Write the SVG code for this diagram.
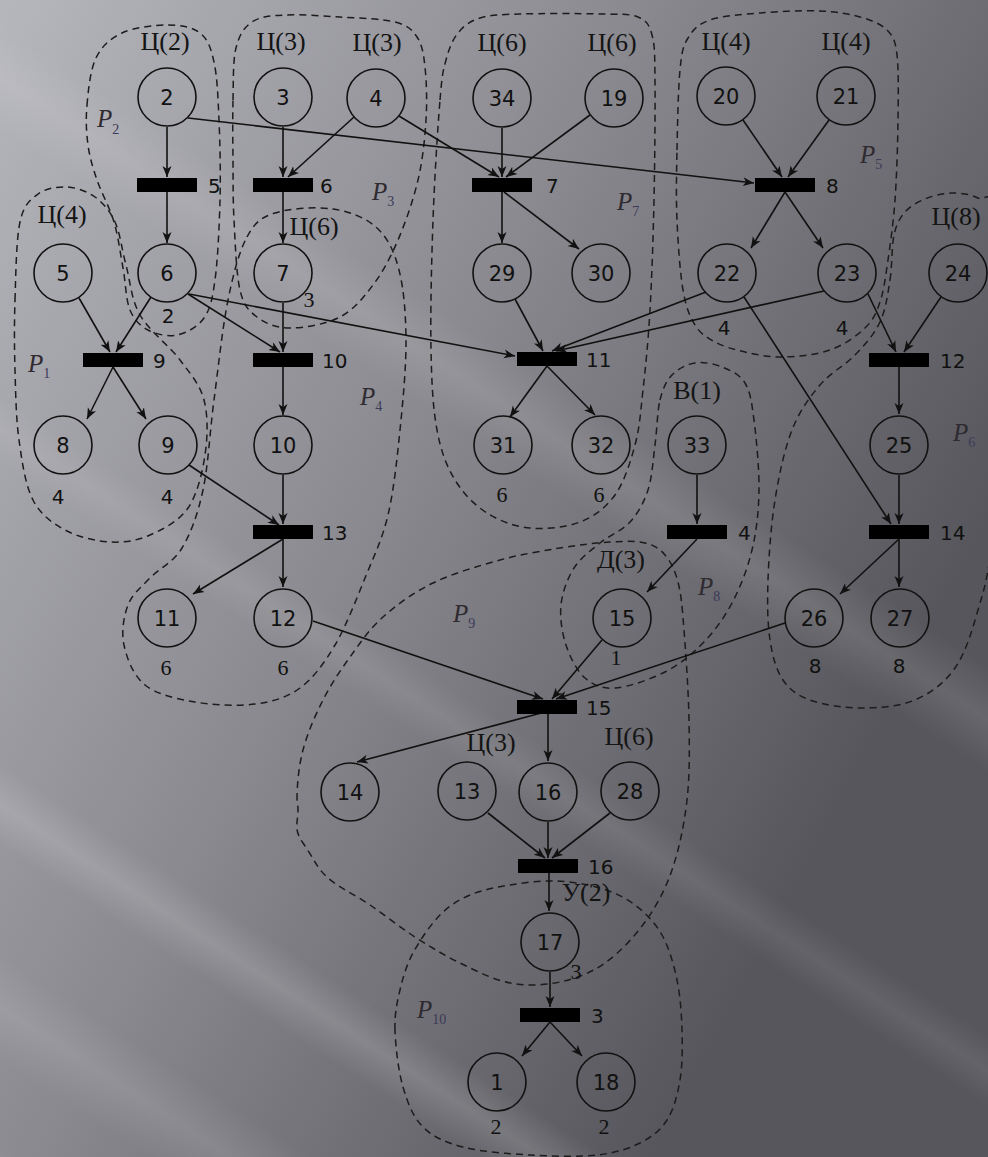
<svg xmlns="http://www.w3.org/2000/svg" width="988" height="1157" viewBox="0 0 988 1157">
<style>
.c{fill:none;stroke:#111;stroke-width:1.6}
.b{fill:#000}
.e{fill:none;stroke:#111;stroke-width:1.6;marker-end:url(#ah)}
.k{fill:none;stroke:#1c1c1c;stroke-width:1.5;stroke-dasharray:7 5}
.n{font-family:"DejaVu Sans","Liberation Sans",sans-serif;font-size:21px;fill:#111;text-anchor:middle}
.t{font-family:"DejaVu Sans","Liberation Sans",sans-serif;font-size:20px;fill:#111}
.q{font-family:"DejaVu Sans","Liberation Sans",sans-serif;font-size:20px;fill:#111;text-anchor:middle}
.s{font-family:"Liberation Serif","DejaVu Serif",serif;font-size:22px;fill:#111;text-anchor:middle}
.l{font-family:"Liberation Serif","DejaVu Serif",serif;font-size:26px;fill:#141414;text-anchor:middle}
.p{font-family:"Liberation Serif","DejaVu Serif",serif;font-style:italic;font-size:25px;fill:#2e2a30}
.ps{font-style:normal;font-size:14px;fill:#3c3a58}
</style>
<defs>
<linearGradient id="bg" x1="0" y1="0" x2="988" y2="520" gradientUnits="userSpaceOnUse">
<stop offset="0" stop-color="#b6b6bd"/>
<stop offset="0.5" stop-color="#8a8a90"/>
<stop offset="1" stop-color="#56565c"/>
</linearGradient>
<linearGradient id="band" x1="0" y1="0" x2="0" y2="1">
<stop offset="0" stop-color="#fff" stop-opacity="0"/>
<stop offset="0.5" stop-color="#fff" stop-opacity="1"/>
<stop offset="1" stop-color="#fff" stop-opacity="0"/>
</linearGradient>
<marker id="ah" markerWidth="12" markerHeight="10" refX="11" refY="5" orient="auto" markerUnits="userSpaceOnUse">
<path d="M0,0.5 L11,5 L0,9.5 L3,5 Z" fill="#111"/>
</marker>
</defs>
<rect width="988" height="1157" fill="url(#bg)"/>
<g transform="rotate(33)">
<rect x="-800" y="20" width="2600" height="90" fill="url(#band)" opacity="0.10"/>
<rect x="-800" y="330" width="2600" height="60" fill="url(#band)" opacity="0.08"/>
<rect x="-800" y="640" width="2600" height="70" fill="url(#band)" opacity="0.14"/>
<rect x="-800" y="800" width="2600" height="90" fill="url(#band)" opacity="0.10"/>
<rect x="-800" y="960" width="2600" height="60" fill="url(#band)" opacity="0.08"/>
</g>

<g id="contours">
<path id="P1" class="k" d="M15,300 C15.8,275.3 16.2,239.7 20,222 S30.2,199.8 38,194 S57.5,186.5 67,187 S87,191.2 95,197 S109.8,210.7 115,222 S121.8,249.5 126,265 S131,299.2 140,315 S169.3,345.8 180,360 S199.8,384.2 204,400 S207.7,437 205,455 S197.2,494.7 188,508 S163,529.3 150,535 S124.2,542.8 110,542 S77.8,537 65,530 S40.7,515 33,500 S22,461.7 19,440 S15.7,393.3 15,370 S14.2,324.7 15,300 Z"/>
<path id="P2" class="k" d="M87,105 C88.3,90.5 90.2,70 96,58 S110.2,38.5 122,33 S154,25 167,25 S192.2,26.8 200,33 S210.8,47.5 214,62 S218,97 219,120 S220.7,173.3 220,200 S217.7,260.3 215,280 S210.3,308.8 204,318 S186.3,333 177,335 S155.8,334.2 148,330 S134.2,320.3 130,310 S125.7,282.7 123,268 S118.3,236.7 114,222 S101.3,192.8 97,180 S89.7,157.5 88,145 S85.7,119.5 87,105 Z"/>
<path id="P3" class="k" d="M233,100 C233.5,81.3 232.8,61 236,48 S243.8,27.5 252,22 S270.3,15.8 285,15 S321.7,15.8 340,17 S382.2,18.7 395,22 S412,29.5 417,37 S423.5,53.2 425,67 S427.2,101.2 426,120 S422.7,160 418,180 S405.5,222.5 398,240 S382.7,272.2 373,285 S353.8,309.8 340,317 S303.8,328 290,328 S265.3,323.3 257,317 S243.8,306.2 240,290 S235.2,241.7 234,220 S233.2,180 233,160 S232.5,118.7 233,100 Z"/>
<path id="P4" class="k" d="M247,237 C254.8,222.5 260.7,217.7 275,213 S316,206.5 333,209 S366,217.8 377,228 S394.2,251.3 399,270 S405.8,313.3 406,340 S403,400.8 400,430 S393.8,490.3 388,515 S373.8,556.3 365,578 S345.8,626.7 335,645 S313.3,678.2 300,688 S272.5,701.7 255,704 S213.3,705.2 195,702 S156.8,694.5 145,685 S126.8,658.3 124,645 S123.7,616.2 128,605 S141,587.5 150,578 S173.2,562.7 182,548 S197.7,514.7 203,490 S209.8,431.7 214,400 S222.5,327.2 228,300 S239.2,251.5 247,237 Z"/>
<path id="P7" class="k" d="M440,100 C442.2,73.3 443,71.2 446,60 S452.3,40 458,33 S469.7,21.2 480,18 S500,14.7 520,14 S580.3,13.5 600,14 S629.3,13.5 638,17 S649.2,24.5 652,35 S654.7,52.5 655,80 S654.8,161.7 654,200 S651.8,278.3 650,310 S645.5,367.5 643,390 S639.7,427.5 635,445 S624.2,482.2 615,495 S594.2,516.5 580,522 S545.5,529.5 530,528 S499.5,521 487,513 S463.3,493.8 455,480 S441,451.7 437,430 S431.7,385 431,350 S431.5,261.7 433,220 S437.8,126.7 440,100 Z"/>
<path id="P5" class="k" d="M677,150 C677.5,125 678.2,88.7 680,70 S683,46.3 688,38 S698,24.2 710,20 S741.7,14.5 760,13 S803.3,10.3 820,11 S848.8,13.8 860,17 S880.8,23.7 887,30 S895.2,40 897,55 S898.3,95.8 898,120 S896.7,176.7 895,200 S890.5,243 888,260 S883.8,290.7 880,302 S873.3,320 865,328 S843.7,345.2 830,350 S797.2,356.7 783,357 S756.3,354.5 745,352 S723.3,346.5 715,342 S700.3,333.7 695,325 S686,307.5 683,290 S678,243.3 677,220 S676.5,175 677,150 Z"/>
<path id="P6" class="k" d="M890,280 C892.3,265.5 891.5,246.3 894,235 S899.8,218 905,212 S917.2,202.2 925,199 S943.2,193.2 952,193 S970.7,194.3 978,198 S992,184.7 996,215 S1002.7,325.8 1002,380 S996,501.7 992,540 S984.2,588.7 978,610 S965.5,653 955,668 S930.8,693.3 915,700 S877.5,708 860,708 S822.8,704.7 810,700 S789.7,690 783,680 S772.5,656.7 770,640 S767.2,603.3 768,580 S771,525 775,500 S784.5,449.2 792,430 S809.5,397.5 820,385 S845,365.5 855,355 S874.2,334.5 880,322 S887.7,294.5 890,280 Z"/>
<path id="P8" class="k" d="M660,400 C662.8,388.3 666.2,381.2 672,375 S686.7,364.3 695,363 S713.7,363.7 722,367 S739.7,374.2 745,383 S751.7,402.2 754,420 S759.3,468.3 759,490 S756.5,531.2 752,550 S740.2,587.5 732,603 S714.2,631.5 703,643 S679.7,664.5 665,672 S628.3,687 615,688 S593.2,685.2 585,678 S570,657.2 566,645 S559.7,617.8 561,605 S567.5,578.3 574,568 S590.7,550.7 600,543 S622,530.8 630,522 S643.8,502.8 648,490 S653,460 655,445 S657.2,411.7 660,400 Z"/>
<path id="P9" class="k" d="M297,800 C297,784.5 298.7,766.7 303,750 S315.2,715.5 323,700 S340,670.8 350,657 S369.2,629.3 383,617 S413.5,592.5 433,583 S478.8,565.8 500,560 S541.7,551 560,548 S595.8,542.8 610,542 S635.8,540.8 645,543 S659.5,548.5 665,555 S674.8,569.5 678,582 S682.2,607 684,630 S688.5,691.7 689,720 S689.8,775 687,800 S679,849.7 672,870 S656.2,906.5 645,922 S619.2,953 605,963 S575.8,978.7 560,982 S526.7,986.2 510,983 S475.8,970.7 460,963 S430,946.7 415,937 S384.7,915 370,905 S338.2,887.3 327,877 S315.2,860.5 303,843 S301,821.2 297,800 Z"/>
<path id="P10" class="k" d="M395,1030 C394.5,1013.8 397,1002.8 400,990 S406.3,965.5 413,953 S430.5,924.7 440,915 S458.3,900 470,895 S495.8,887.3 510,885 S540,880.5 555,881 S586.7,884 600,888 S624.7,897.2 635,905 S655,922.5 662,935 S673.7,964.2 677,980 S681.5,1013.3 682,1030 S682.5,1065 680,1080 S673.7,1109.5 667,1120 S651.7,1137.2 640,1143 S615.3,1153 597,1155 S552.3,1156.3 530,1155 S480.8,1151.7 463,1147 S433,1137 423,1127 S407.7,1103.2 403,1087 S395.5,1046.2 395,1030 Z"/>
<text class="p" x="97" y="127">P<tspan class="ps" dy="7">2</tspan></text>
<text class="p" x="372" y="200">P<tspan class="ps" dy="6">3</tspan></text>
<text class="p" x="617" y="210">P<tspan class="ps" dy="6">7</tspan></text>
<text class="p" x="860" y="163">P<tspan class="ps" dy="6">5</tspan></text>
<text class="p" x="28" y="372">P<tspan class="ps" dy="6">1</tspan></text>
<text class="p" x="360" y="405">P<tspan class="ps" dy="6">4</tspan></text>
<text class="p" x="953" y="441">P<tspan class="ps" dy="6">6</tspan></text>
<text class="p" x="698" y="595">P<tspan class="ps" dy="6">8</tspan></text>
<text class="p" x="453" y="622">P<tspan class="ps" dy="6">9</tspan></text>
<text class="p" x="417" y="1018">P<tspan class="ps" dy="6">10</tspan></text>
</g>

<g id="connectors">
<path class="e" d="M167,127 L167,177"/>
<path class="e" d="M167,192 L167,243"/>
<path class="e" d="M188,118 L754,183"/>
<path class="e" d="M283,127 L283,177"/>
<path class="e" d="M354,117 L288,177"/>
<path class="e" d="M399,116 L499,177"/>
<path class="e" d="M502,128 L502,177"/>
<path class="e" d="M590,115 L506,177"/>
<path class="e" d="M283,192 L283,243"/>
<path class="e" d="M502,192 L502,243"/>
<path class="e" d="M504,192 L579,249"/>
<path class="e" d="M743,120 L782,177"/>
<path class="e" d="M829,120 L788,177"/>
<path class="e" d="M785,192 L751,248"/>
<path class="e" d="M785,192 L823,248"/>
<path class="e" d="M79,298 L110,352"/>
<path class="e" d="M151,297 L116,352"/>
<path class="e" d="M188,294 L280,352"/>
<path class="e" d="M189,294 L515,356"/>
<path class="e" d="M283,303 L283,352"/>
<path class="e" d="M283,367 L283,415"/>
<path class="e" d="M515,299 L543,351"/>
<path class="e" d="M706,292 L552,351"/>
<path class="e" d="M824,291 L556,351"/>
<path class="e" d="M547,366 L510,417"/>
<path class="e" d="M547,366 L595,415"/>
<path class="e" d="M113,367 L87,419"/>
<path class="e" d="M113,367 L146,419"/>
<path class="e" d="M189,465 L279,525"/>
<path class="e" d="M283,475 L283,524"/>
<path class="e" d="M283,539 L193,594"/>
<path class="e" d="M283,539 L283,587"/>
<path class="e" d="M941,297 L904,352"/>
<path class="e" d="M868,294 L896,352"/>
<path class="e" d="M899,367 L899,414"/>
<path class="e" d="M899,475 L899,524"/>
<path class="e" d="M744,297 L891,524"/>
<path class="e" d="M697,475 L697,524"/>
<path class="e" d="M697,539 L647,592"/>
<path class="e" d="M899,539 L840,594"/>
<path class="e" d="M899,539 L899,587"/>
<path class="e" d="M313,621 L543,699"/>
<path class="e" d="M602,640 L552,699"/>
<path class="e" d="M785,623 L556,699"/>
<path class="e" d="M545,712 L357,762"/>
<path class="e" d="M548,714 L548,761"/>
<path class="e" d="M488,813 L545,858"/>
<path class="e" d="M548,822 L548,858"/>
<path class="e" d="M610,813 L552,858"/>
<path class="e" d="M549,873 L549,911"/>
<path class="e" d="M550,972 L550,1007"/>
<path class="e" d="M550,1022 L522,1056"/>
<path class="e" d="M550,1022 L582,1056"/>
</g>

<g id="p2"><circle class="c" cx="167" cy="97" r="29"/><text class="n" x="167" y="105">2</text><text class="l" x="165" y="50">Ц(2)</text></g>
<g id="p3"><circle class="c" cx="283" cy="97" r="29"/><text class="n" x="283" y="105">3</text><text class="l" x="281" y="50">Ц(3)</text></g>
<g id="p4"><circle class="c" cx="376" cy="98" r="29"/><text class="n" x="376" y="106">4</text><text class="l" x="377" y="51">Ц(3)</text></g>
<g id="p34"><circle class="c" cx="502" cy="98" r="29"/><text class="n" x="502" y="106">34</text><text class="l" x="502" y="51">Ц(6)</text></g>
<g id="p19"><circle class="c" cx="614" cy="98" r="29"/><text class="n" x="614" y="106">19</text><text class="l" x="612" y="51">Ц(6)</text></g>
<g id="p20"><circle class="c" cx="726" cy="96" r="29"/><text class="n" x="726" y="104">20</text><text class="l" x="726" y="50">Ц(4)</text></g>
<g id="p21"><circle class="c" cx="846" cy="96" r="29"/><text class="n" x="846" y="104">21</text><text class="l" x="846" y="50">Ц(4)</text></g>
<g id="p5"><circle class="c" cx="63" cy="273" r="29"/><text class="n" x="63" y="281">5</text><text class="l" x="62" y="223">Ц(4)</text></g>
<g id="p6"><circle class="c" cx="167" cy="273" r="29"/><text class="n" x="167" y="281">6</text><text class="q" x="168" y="323">2</text></g>
<g id="p7"><circle class="c" cx="283" cy="273" r="29"/><text class="n" x="283" y="281">7</text><text class="l" x="314" y="235">Ц(6)</text><text class="s" x="309" y="307">3</text></g>
<g id="p29"><circle class="c" cx="502" cy="273" r="29"/><text class="n" x="502" y="281">29</text></g>
<g id="p30"><circle class="c" cx="601" cy="273" r="29"/><text class="n" x="601" y="281">30</text></g>
<g id="p22"><circle class="c" cx="727" cy="273" r="29"/><text class="n" x="727" y="281">22</text><text class="q" x="724" y="335">4</text></g>
<g id="p23"><circle class="c" cx="847" cy="273" r="29"/><text class="n" x="847" y="281">23</text><text class="q" x="842" y="335">4</text></g>
<g id="p24"><circle class="c" cx="958" cy="273" r="29"/><text class="n" x="958" y="281">24</text><text class="l" x="956" y="225">Ц(8)</text></g>
<g id="p8"><circle class="c" cx="63" cy="445" r="29"/><text class="n" x="63" y="453">8</text><text class="q" x="58" y="504">4</text></g>
<g id="p9"><circle class="c" cx="168" cy="445" r="29"/><text class="n" x="168" y="453">9</text><text class="q" x="167" y="504">4</text></g>
<g id="p10"><circle class="c" cx="283" cy="445" r="29"/><text class="n" x="283" y="453">10</text></g>
<g id="p31"><circle class="c" cx="503" cy="445" r="29"/><text class="n" x="503" y="453">31</text><text class="s" x="502" y="502">6</text></g>
<g id="p32"><circle class="c" cx="601" cy="445" r="29"/><text class="n" x="601" y="453">32</text><text class="s" x="599" y="502">6</text></g>
<g id="p33"><circle class="c" cx="697" cy="445" r="29"/><text class="n" x="697" y="453">33</text><text class="l" x="697" y="399">В(1)</text></g>
<g id="p25"><circle class="c" cx="899" cy="445" r="29"/><text class="n" x="899" y="453">25</text></g>
<g id="p11"><circle class="c" cx="167" cy="618" r="29"/><text class="n" x="167" y="626">11</text><text class="s" x="166" y="675">6</text></g>
<g id="p12"><circle class="c" cx="283" cy="618" r="29"/><text class="n" x="283" y="626">12</text><text class="s" x="283" y="675">6</text></g>
<g id="p15"><circle class="c" cx="622" cy="618" r="29"/><text class="n" x="622" y="626">15</text><text class="l" x="621" y="568">Д(3)</text><text class="s" x="616" y="665">1</text></g>
<g id="p26"><circle class="c" cx="814" cy="618" r="29"/><text class="n" x="814" y="626">26</text><text class="q" x="815" y="673">8</text></g>
<g id="p27"><circle class="c" cx="900" cy="618" r="29"/><text class="n" x="900" y="626">27</text><text class="q" x="899" y="673">8</text></g>
<g id="p14"><circle class="c" cx="350" cy="792" r="29"/><text class="n" x="350" y="800">14</text></g>
<g id="p13"><circle class="c" cx="467" cy="791" r="29"/><text class="n" x="467" y="799">13</text><text class="l" x="491" y="751">Ц(3)</text></g>
<g id="p16"><circle class="c" cx="548" cy="792" r="29"/><text class="n" x="548" y="800">16</text></g>
<g id="p28"><circle class="c" cx="630" cy="791" r="29"/><text class="n" x="630" y="799">28</text><text class="l" x="629" y="745">Ц(6)</text></g>
<g id="p17"><circle class="c" cx="550" cy="942" r="29"/><text class="n" x="550" y="950">17</text><text class="l" x="586" y="901">У(2)</text><text class="s" x="576" y="979">3</text></g>
<g id="p1"><circle class="c" cx="497" cy="1082" r="29"/><text class="n" x="497" y="1090">1</text><text class="s" x="496" y="1134">2</text></g>
<g id="p18"><circle class="c" cx="606" cy="1082" r="29"/><text class="n" x="606" y="1090">18</text><text class="s" x="604" y="1134">2</text></g>

<g id="t5"><rect class="b" x="137" y="178" width="60" height="14"/><text class="t" x="208" y="193">5</text></g>
<g id="t6"><rect class="b" x="253" y="178" width="60" height="14"/><text class="t" x="320" y="193">6</text></g>
<g id="t7"><rect class="b" x="472" y="178" width="60" height="14"/><text class="t" x="546" y="193">7</text></g>
<g id="t8"><rect class="b" x="755" y="178" width="60" height="14"/><text class="t" x="826" y="193">8</text></g>
<g id="t9"><rect class="b" x="83" y="353" width="60" height="14"/><text class="t" x="153" y="368">9</text></g>
<g id="t10"><rect class="b" x="253" y="353" width="60" height="14"/><text class="t" x="322" y="368">10</text></g>
<g id="t11"><rect class="b" x="517" y="352" width="60" height="14"/><text class="t" x="586" y="367">11</text></g>
<g id="t12"><rect class="b" x="869" y="353" width="60" height="14"/><text class="t" x="940" y="368">12</text></g>
<g id="t13"><rect class="b" x="253" y="525" width="60" height="14"/><text class="t" x="322" y="540">13</text></g>
<g id="t4"><rect class="b" x="667" y="525" width="60" height="14"/><text class="t" x="738" y="540">4</text></g>
<g id="t14"><rect class="b" x="869" y="525" width="60" height="14"/><text class="t" x="940" y="540">14</text></g>
<g id="t15"><rect class="b" x="517" y="700" width="60" height="14"/><text class="t" x="586" y="715">15</text></g>
<g id="t16"><rect class="b" x="518" y="859" width="60" height="14"/><text class="t" x="588" y="874">16</text></g>
<g id="t3"><rect class="b" x="520" y="1008" width="60" height="14"/><text class="t" x="591" y="1023">3</text></g>
</svg>
